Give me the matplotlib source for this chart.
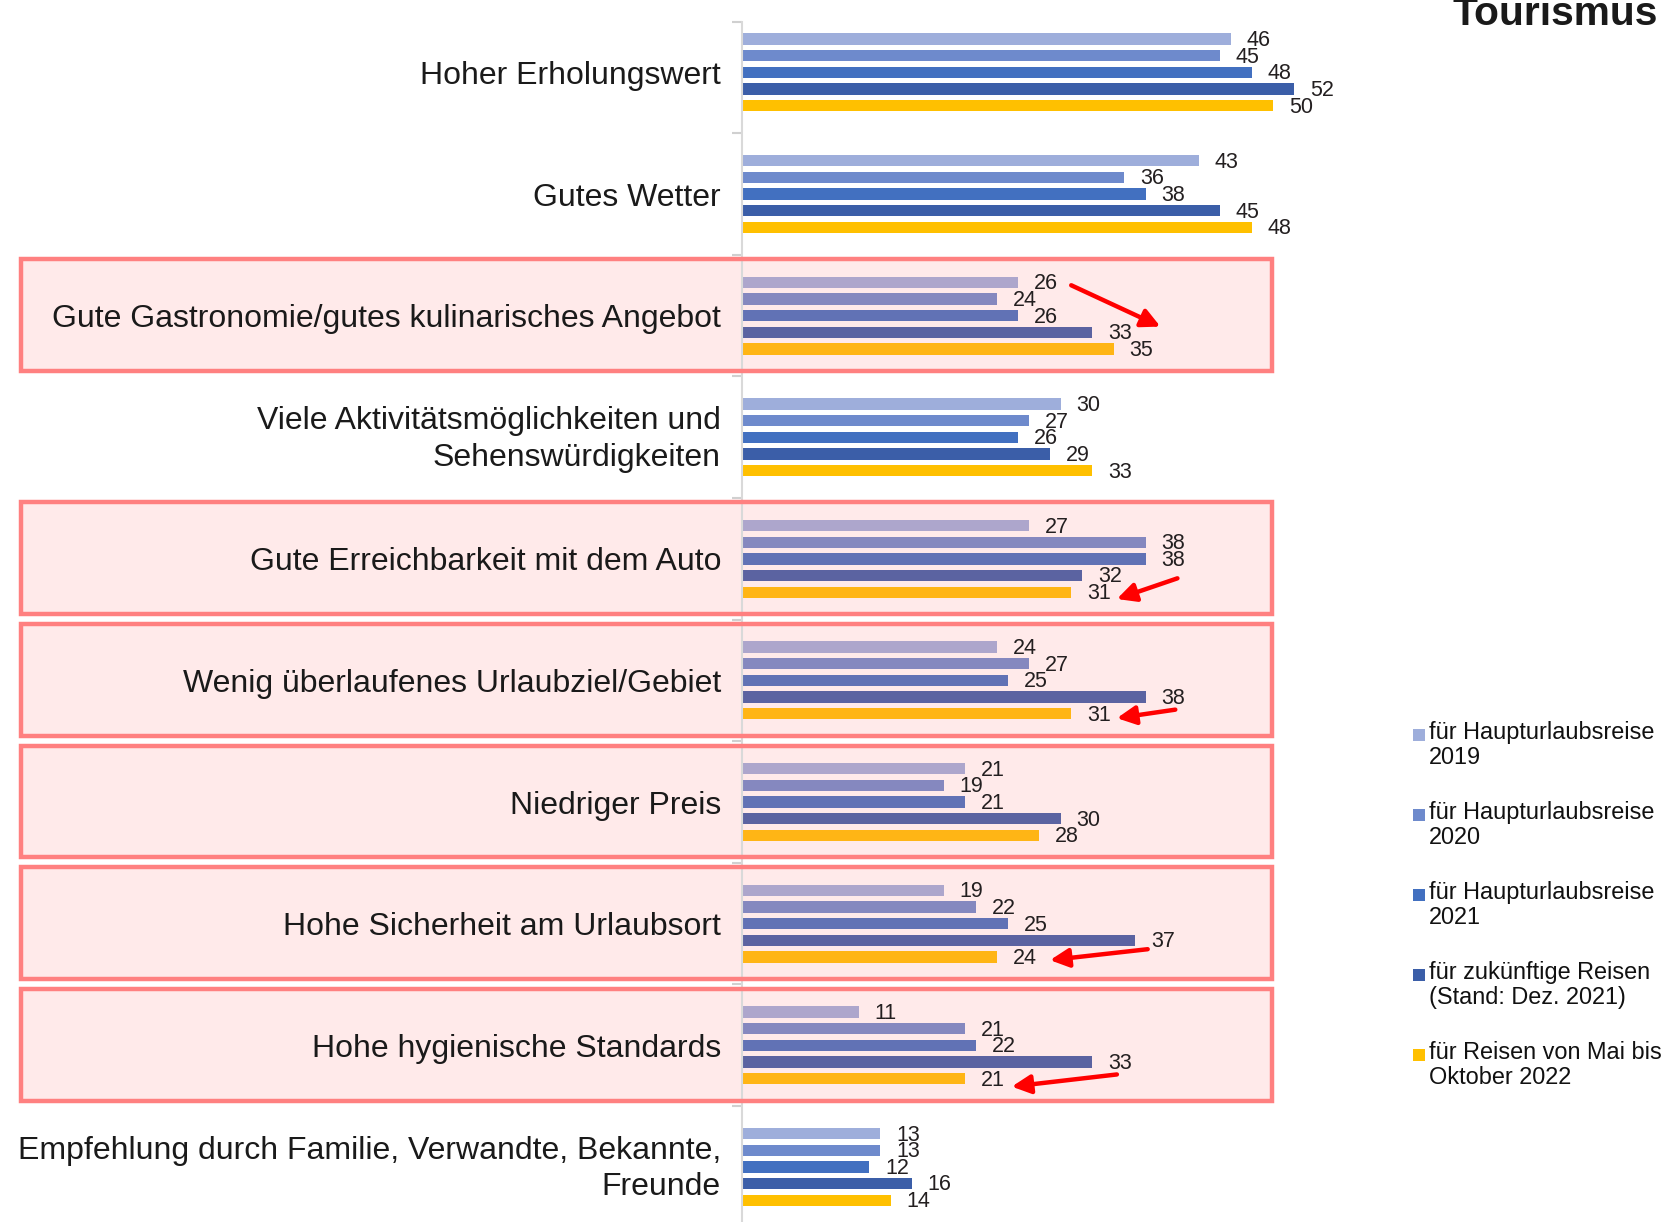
import matplotlib
matplotlib.use("Agg")
import matplotlib.pyplot as plt
from matplotlib.patches import Rectangle
from matplotlib.transforms import blended_transform_factory
import numpy as np

plt.rcParams['font.family'] = ['Liberation Sans', 'DejaVu Sans']

categories = [
    "Hoher Erholungswert",
    "Gutes Wetter",
    "Gute Gastronomie/gutes kulinarisches Angebot",
    "Viele Aktivitätsmöglichkeiten und\nSehenswürdigkeiten",
    "Gute Erreichbarkeit mit dem Auto",
    "Wenig überlaufenes Urlaubziel/Gebiet",
    "Niedriger Preis",
    "Hohe Sicherheit am Urlaubsort",
    "Hohe hygienische Standards",
    "Empfehlung durch Familie, Verwandte, Bekannte,\nFreunde",
]
series_labels = [
    "für Haupturlaubsreise\n2019",
    "für Haupturlaubsreise\n2020",
    "für Haupturlaubsreise\n2021",
    "für zukünftige Reisen\n(Stand: Dez. 2021)",
    "für Reisen von Mai bis\nOktober 2022",
]
v2019 = [46, 43, 26, 30, 27, 24, 21, 19, 11, 13]
v2020 = [45, 36, 24, 27, 38, 27, 19, 22, 21, 13]
v2021 = [48, 38, 26, 26, 38, 25, 21, 25, 22, 12]
vfuture = [52, 45, 33, 29, 32, 38, 30, 37, 33, 16]
v2022 = [50, 48, 35, 33, 31, 31, 28, 24, 21, 14]
series = [v2019, v2020, v2021, vfuture, v2022]
colors = ["#9eaedb", "#6e8acc", "#4270c0", "#3b5ea8", "#ffc000"]

# categories framed in red
highlighted = [2, 4, 5, 6, 7, 8]

W, H = 1671, 1222
fig = plt.figure(figsize=(W / 100, H / 100), dpi=100)

ax_left, ax_top, px_unit = 742, 22, 10.62
ylim_top, ylim_bot = -0.415, 9.5
grp_px = 121.6
ax_h = (ylim_bot - ylim_top) * grp_px
ax_w = 60 * px_unit
ax = fig.add_axes([ax_left / W, (H - ax_top - ax_h) / H, ax_w / W, ax_h / H])
ax.set_xlim(0, 60)
ax.set_ylim(ylim_bot, ylim_top)

y = np.arange(len(categories))
step, bh = 0.137, 0.093
for k, (vals, col) in enumerate(zip(series, colors)):
    yy = y + (k - 2) * step
    ax.barh(yy, vals, height=bh, color=col, zorder=1)
    for yi, v in zip(yy, vals):
        ax.text(v + 1.5, yi + 0.012, str(v), va='center', ha='left',
                fontsize=15.5, color="#231f20", zorder=5)

# category labels
ytr = ax.get_yaxis_transform()
for yi, cat in zip(y, categories):
    dy = -0.037 if "\n" in cat else 0.0
    ax.text(-21 / ax_w, yi + dy, cat, transform=ytr, ha='right',
            va='center_baseline', multialignment='right', fontsize=23,
            color="#1a1a1a", linespacing=1.28, zorder=5)

# highlight boxes
tr = blended_transform_factory(fig.transFigure, ax.transData)
x0, x1 = 21 / W, 1272 / W
for i in highlighted:
    ax.add_patch(Rectangle((x0, i - 0.465), x1 - x0, 0.92, transform=tr,
                           facecolor="#ff8080", alpha=0.165, edgecolor='none',
                           zorder=1.2, clip_on=False))
    ax.add_patch(Rectangle((x0, i - 0.465), x1 - x0, 0.92, transform=tr,
                           facecolor='none', edgecolor="#ff8080", lw=3.2,
                           zorder=4, clip_on=False))

# red arrows
arrows = [
    ((31.0, 1.75), (39.4, 2.09)),
    ((41.0, 4.16), (35.3, 4.33)),
    ((40.8, 5.24), (35.3, 5.31)),
    ((38.2, 7.21), (29.0, 7.30)),
    ((35.3, 8.24), (25.4, 8.34)),
]
for (tx, ty), (hx, hy) in arrows:
    ax.annotate("", xy=(hx, hy), xytext=(tx, ty),
                arrowprops=dict(arrowstyle='-|>', color='#ff0000', lw=3.2,
                                mutation_scale=28, shrinkA=0, shrinkB=0),
                zorder=6)

ax.set_yticks([])
ax.set_yticks(np.concatenate([[ylim_top], np.arange(0.5, 9.5, 1.0)]), minor=True)
ax.tick_params(axis='y', which='minor', length=7, width=1.5, color="#d0d0d0")
ax.set_xticks([])
for s in ['top', 'right', 'bottom']:
    ax.spines[s].set_visible(False)
ax.spines['left'].set_color("#d9d9d9")
ax.spines['left'].set_linewidth(1.5)

# legend
leg_y = [735, 815, 895, 975, 1055]
for lab, col, ly in zip(series_labels, colors, leg_y):
    fig.patches.append(Rectangle((1413 / W, 1 - (ly + 6) / H), 12 / W, 12 / H,
                                 transform=fig.transFigure, facecolor=col,
                                 edgecolor='none'))
    fig.text(1429 / W, 1 - (ly - 14) / H, lab, fontsize=16.9, color="#111111",
             ha='left', va='top', linespacing=1.12)

fig.text(1658 / W, 1 - 25 / H, "Tourismus", fontsize=29.3, fontweight='bold',
         color="#1a1a1a", ha='right', va='baseline')

fig.savefig("out.png", dpi=100)
